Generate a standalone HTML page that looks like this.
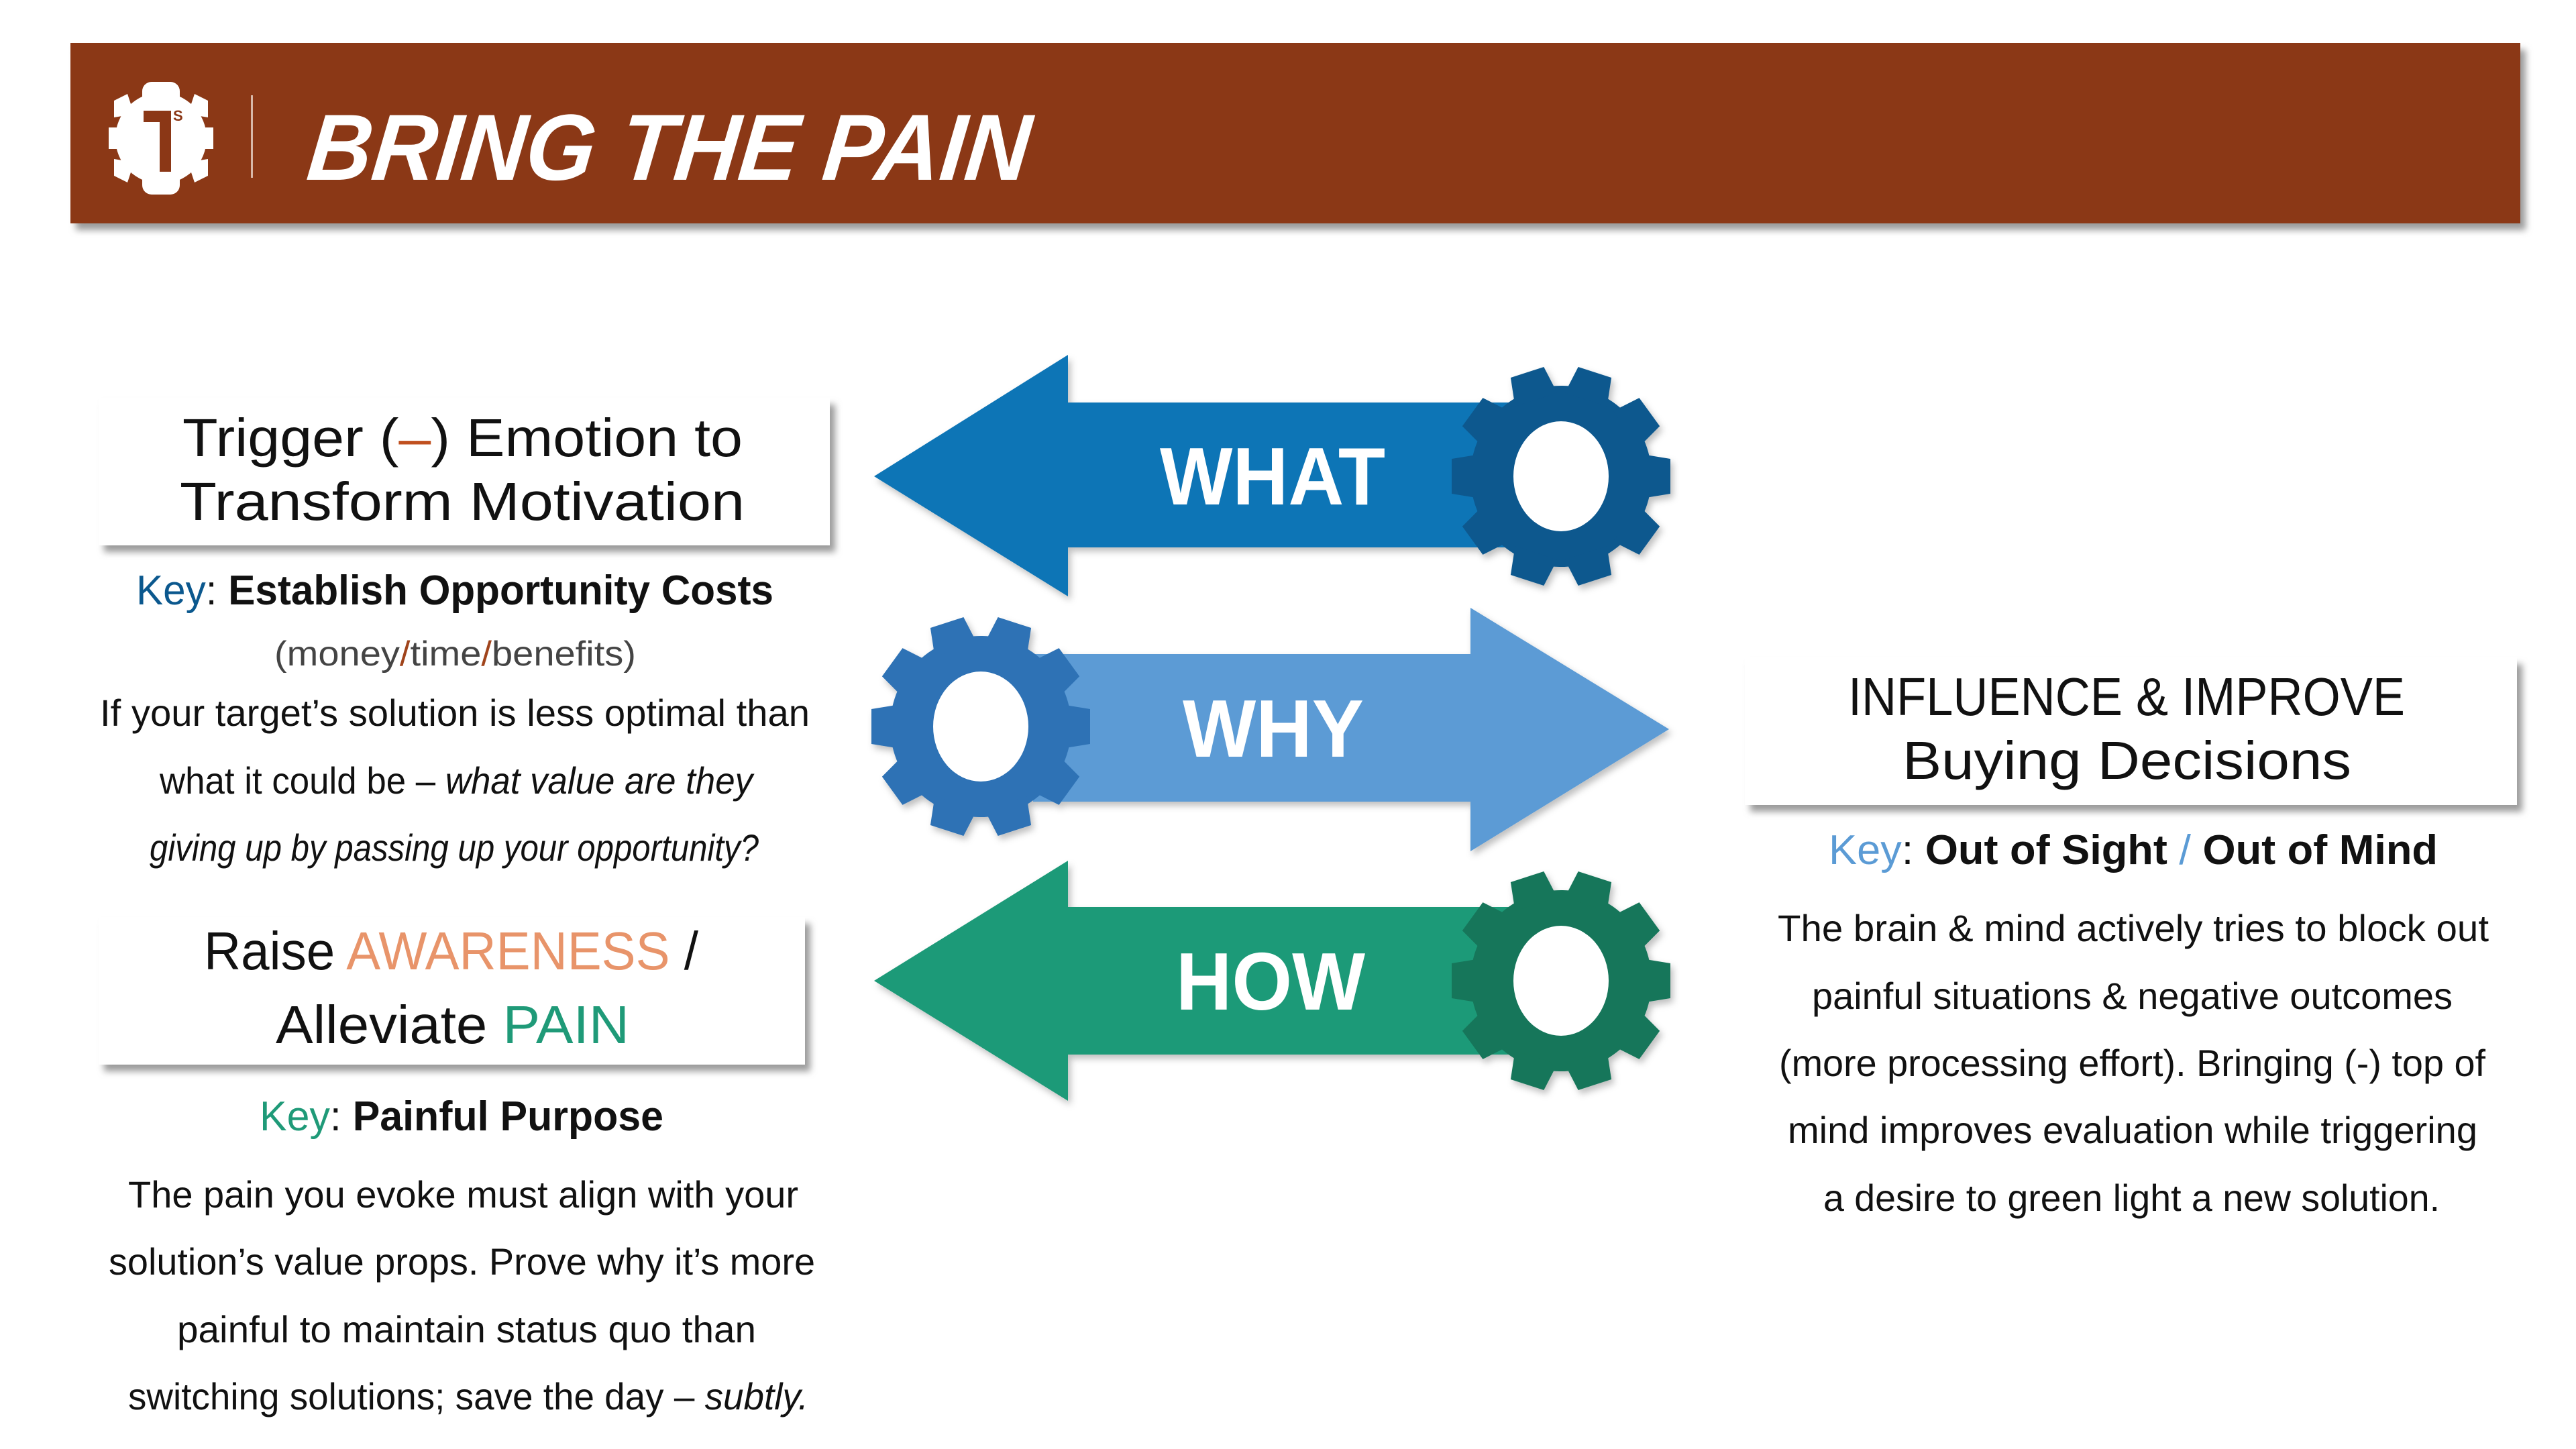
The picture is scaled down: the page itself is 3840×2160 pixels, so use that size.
<!DOCTYPE html>
<html><head><meta charset="utf-8"><style>
html,body{margin:0;padding:0;background:#fff;}
svg{display:block;}
text{font-family:"Liberation Sans",Arial,sans-serif;}
</style></head><body>
<svg width="3840" height="2160" viewBox="0 0 3840 2160" xmlns="http://www.w3.org/2000/svg">
<defs>
<filter id="sh" x="-5%" y="-10%" width="115%" height="130%"><feDropShadow dx="8" dy="10" stdDeviation="5" flood-color="#7a7a7a" flood-opacity="0.75"/></filter>
<filter id="sh2" x="-5%" y="-10%" width="115%" height="130%"><feDropShadow dx="4" dy="6" stdDeviation="5" flood-color="#000" flood-opacity="0.25"/></filter>
<g id="gear">
<circle r="135"/>
<g id="tooth"><path d="M-33,-120 L-26,-163 L26,-163 L33,-120Z"/></g>
<use href="#tooth" transform="rotate(36)"/>
<use href="#tooth" transform="rotate(72)"/>
<use href="#tooth" transform="rotate(108)"/>
<use href="#tooth" transform="rotate(144)"/>
<use href="#tooth" transform="rotate(180)"/>
<use href="#tooth" transform="rotate(216)"/>
<use href="#tooth" transform="rotate(252)"/>
<use href="#tooth" transform="rotate(288)"/>
<use href="#tooth" transform="rotate(324)"/>
</g>
</defs>

<!-- header -->
<rect x="105" y="64" width="3652" height="269" fill="#8B3716" filter="url(#sh)"/>
<g fill="#fff">
<rect x="212" y="122" width="56" height="168" rx="14"/>
<circle cx="240" cy="206" r="68"/>
<path d="M170,150 L190,140 L200,170 L170,175Z M310,150 L290,140 L280,170 L310,175Z M170,262 L190,272 L200,242 L170,237Z M310,262 L290,272 L280,242 L310,237Z M162,190 L176,190 L176,222 L162,222Z M318,190 L304,190 L304,222 L318,222Z"/>
</g>
<path d="M214,165 L255,165 L255,256 L238,256 L238,182 L214,182Z" fill="#8B3716"/>
<text x="258" y="180" font-size="22" font-weight="bold" fill="#8B3716">S</text>
<rect x="374" y="142" width="3" height="123" fill="#d8b8a8"/>
<text x="455" y="268" font-size="140" font-weight="bold" font-style="italic" fill="#fff" textLength="1076" lengthAdjust="spacingAndGlyphs" transform="skewX(-6) translate(28,0)">BRING THE PAIN</text>

<!-- arrows -->
<g filter="url(#sh2)">
<path d="M1303,710 L1592,529 L1592,600 L2250,600 L2250,816 L1592,816 L1592,889Z" fill="#0B75B6"/>
<path d="M1540,975 L2192,975 L2192,906 L2488,1087 L2192,1269 L2192,1195 L1540,1195Z" fill="#5B9BD5"/>
<path d="M1303,1462 L1592,1283 L1592,1352 L2250,1352 L2250,1572 L1592,1572 L1592,1641Z" fill="#1F9A78"/>
<use href="#gear" transform="translate(2327,710) rotate(18)" fill="#0B588E"/>
<use href="#gear" transform="translate(1462,1083) rotate(18)" fill="#2E72B5"/>
<use href="#gear" transform="translate(2327,1462) rotate(18)" fill="#17765A"/>
</g>
<ellipse cx="2327" cy="710" rx="71" ry="82" fill="#fff"/>
<ellipse cx="1462" cy="1083" rx="71" ry="82" fill="#fff"/>
<ellipse cx="2327" cy="1462" rx="71" ry="82" fill="#fff"/>
<g fill="#fff" font-weight="bold" font-size="122">
<text x="1729" y="752" textLength="336" lengthAdjust="spacingAndGlyphs">WHAT</text>
<text x="1763" y="1128" textLength="270" lengthAdjust="spacingAndGlyphs">WHY</text>
<text x="1753" y="1505" textLength="282" lengthAdjust="spacingAndGlyphs">HOW</text>
</g>

<!-- boxes -->
<rect x="147" y="593" width="1090" height="220" fill="#fff" filter="url(#sh)"/>
<rect x="147" y="1367" width="1053" height="220" fill="#fff" filter="url(#sh)"/>
<rect x="2601" y="980" width="1151" height="220" fill="#fff" filter="url(#sh)"/>

<g font-size="80" fill="#111">
<text x="272" y="680" textLength="835" lengthAdjust="spacingAndGlyphs">Trigger (<tspan fill="#C0501F">–</tspan>) Emotion to</text>
<text x="268" y="775" textLength="842" lengthAdjust="spacingAndGlyphs">Transform Motivation</text>
<text x="304" y="1445" textLength="737" lengthAdjust="spacingAndGlyphs">Raise <tspan fill="#E8946A">AWARENESS</tspan> /</text>
<text x="411" y="1555" textLength="527" lengthAdjust="spacingAndGlyphs">Alleviate <tspan fill="#1F9A78">PAIN</tspan></text>
<text x="2755" y="1066" textLength="830" lengthAdjust="spacingAndGlyphs">INFLUENCE &amp; IMPROVE</text>
<text x="2836" y="1161" textLength="669" lengthAdjust="spacingAndGlyphs">Buying Decisions</text>
</g>

<g font-size="62" fill="#111">
<text x="203" y="901" textLength="950" lengthAdjust="spacingAndGlyphs"><tspan fill="#0B588E">Key</tspan>: <tspan font-weight="bold">Establish Opportunity Costs</tspan></text>
<text x="387" y="1685" textLength="602" lengthAdjust="spacingAndGlyphs"><tspan fill="#1F9A78">Key</tspan>: <tspan font-weight="bold">Painful Purpose</tspan></text>
<text x="2726" y="1288" textLength="908" lengthAdjust="spacingAndGlyphs"><tspan fill="#5B9BD5">Key</tspan>: <tspan font-weight="bold">Out of Sight </tspan><tspan fill="#5B9BD5">/</tspan><tspan font-weight="bold"> Out of Mind</tspan></text>
</g>

<text x="409" y="992" font-size="52" fill="#444" textLength="539" lengthAdjust="spacingAndGlyphs">(money<tspan fill="#A0441C">/</tspan>time<tspan fill="#A0441C">/</tspan>benefits)</text>

<g font-size="56" fill="#111">
<text x="149" y="1082" textLength="1058" lengthAdjust="spacingAndGlyphs">If your target’s solution is less optimal than</text>
<text x="238" y="1183" textLength="884" lengthAdjust="spacingAndGlyphs">what it could be – <tspan font-style="italic">what value are they</tspan></text>
<text x="223" y="1283" textLength="908" lengthAdjust="spacingAndGlyphs" font-style="italic">giving up by passing up your opportunity?</text>

<text x="191" y="1800" textLength="999" lengthAdjust="spacingAndGlyphs">The pain you evoke must align with your</text>
<text x="162" y="1900" textLength="1053" lengthAdjust="spacingAndGlyphs">solution’s value props. Prove why it’s more</text>
<text x="264" y="2001" textLength="863" lengthAdjust="spacingAndGlyphs">painful to maintain status quo than</text>
<text x="191" y="2101" textLength="1014" lengthAdjust="spacingAndGlyphs">switching solutions; save the day – <tspan font-style="italic">subtly.</tspan></text>

<text x="2650" y="1403" textLength="1060" lengthAdjust="spacingAndGlyphs">The brain &amp; mind actively tries to block out</text>
<text x="2701" y="1504" textLength="955" lengthAdjust="spacingAndGlyphs">painful situations &amp; negative outcomes</text>
<text x="2652" y="1604" textLength="1053" lengthAdjust="spacingAndGlyphs">(more processing effort). Bringing (-) top of</text>
<text x="2665" y="1704" textLength="1028" lengthAdjust="spacingAndGlyphs">mind improves evaluation while triggering</text>
<text x="2718" y="1805" textLength="919" lengthAdjust="spacingAndGlyphs">a desire to green light a new solution.</text>
</g>
</svg>
</body></html>
